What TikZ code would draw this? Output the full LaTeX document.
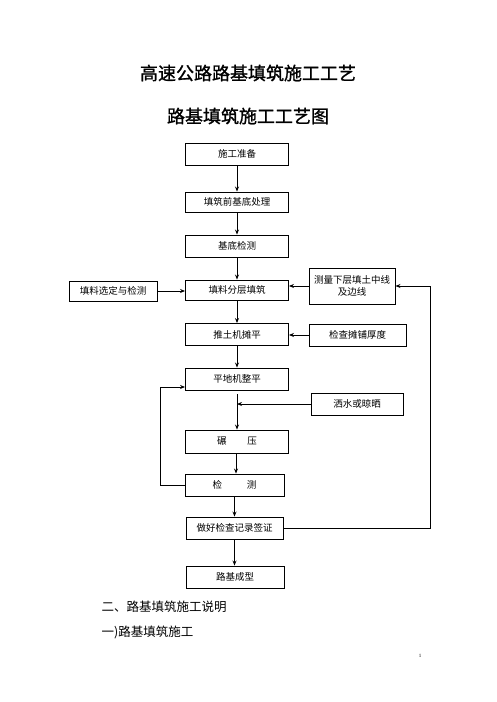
\documentclass[tikz,border=0pt]{standalone}
\usepackage{fontspec}
\setmainfont{Liberation Serif}
\newfontfamily\cjk{Noto Sans CJK SC}
\newfontfamily\cjkhead[FakeBold=1.2]{Noto Sans CJK SC}
\usetikzlibrary{arrows.meta}
\begin{document}
\begin{tikzpicture}[x=1pt,y=-1pt,
  box/.style={draw,line width=0.9pt,minimum width=103pt,minimum height=22pt,inner sep=1pt,
    font=\cjk\fontsize{9.5}{12}\selectfont,align=center},
  arr/.style={line width=0.9pt,-{Stealth[length=5pt,width=4pt]}},
  ln/.style={line width=0.9pt}]
\useasboundingbox (0,0) rectangle (496,702);
% titles
\node[font=\cjkhead\fontsize{18}{20}\selectfont] (t1) at (248,73) {高速公路路基填筑施工工艺};
\node[font=\cjkhead\fontsize{18}{20}\selectfont] (t2) at (248,116) {路基填筑施工工艺图};
% main column
\node[box] (sg) at (237,154) {施工准备};
\node[box,minimum height=20pt] (tz) at (237,202) {填筑前基底处理};
\node[box] (jd) at (237,246) {基底检测};
\node[box,minimum height=20pt] (fc) at (237,290) {填料分层填筑};
\node[box] (tt) at (237,334.5) {推土机摊平};
\node[box] (pd) at (237,379) {平地机整平};
\node[box,minimum height=23pt] (nx) at (237,441.5) {碾\hspace{2.2em}压};
\node[box,minimum width=99pt] (jc) at (234.5,485) {检\hspace{2.6em}测};
\node[box,minimum width=97pt] (zh) at (234.5,528) {做好检查记录签证};
\node[box,minimum width=98pt] (lj) at (235,577) {路基成型};
% side boxes
\node[box,minimum width=88pt,minimum height=20pt] (xd) at (113,291) {填料选定与检测};
\node[box,minimum width=86pt,minimum height=36pt] (cl) at (352,286) {测量下层填土中线\\及边线};
\node[box,minimum width=97pt] (jt) at (357.5,335) {检查摊铺厚度};
\node[box,minimum width=92pt] (ss) at (357,404) {洒水或晾晒};
% main flow
\draw[arr] (sg.south) -- (sg.south |- tz.north);
\draw[arr] (tz.south) -- (tz.south |- jd.north);
\draw[arr] (jd.south) -- (jd.south |- fc.north);
\draw[arr] (fc.south) -- (fc.south |- tt.north);
\draw[arr] (tt.south) -- (tt.south |- pd.north);
\draw[arr] ([yshift=-4pt]pd.south) -- (pd.south |- nx.north);
\draw[arr] ([xshift=-1pt]nx.south) -- ([xshift=-1pt]nx.south |- jc.north);
\draw[arr] (jc.south) -- (jc.south |- zh.north);
\draw[arr] (zh.south) -- (zh.south |- lj.north);
% side inputs
\draw[arr] (xd.east) -- (xd.east -| fc.west);
\draw[arr] (cl.west) -- (cl.west -| fc.east);
\draw[arr] (jt.west) -- (jt.west -| tt.east);
\coordinate (jn) at (pd.south |- ss.west);
\draw[arr] (ss.west) -- (jn);
% return loops
\coordinate (ll) at (160,485);
\draw[arr] (jc.west) -- (ll) |- ([yshift=-8pt]pd.west);
\coordinate (rl) at (430,528);
\draw[arr] (zh.east) -- (rl) |- (cl.east);
% text below
\node[anchor=west,font=\cjk\fontsize{12.5}{14}\selectfont] (p1) at (98,607) {二、路基填筑施工说明};
\node[anchor=west,font=\cjk\fontsize{12.5}{14}\selectfont] (p2) at (98,632) {一)路基填筑施工};
\node[font=\fontsize{5}{6}\selectfont] (pg) at (420,656) {1};
\end{tikzpicture}
\end{document}
